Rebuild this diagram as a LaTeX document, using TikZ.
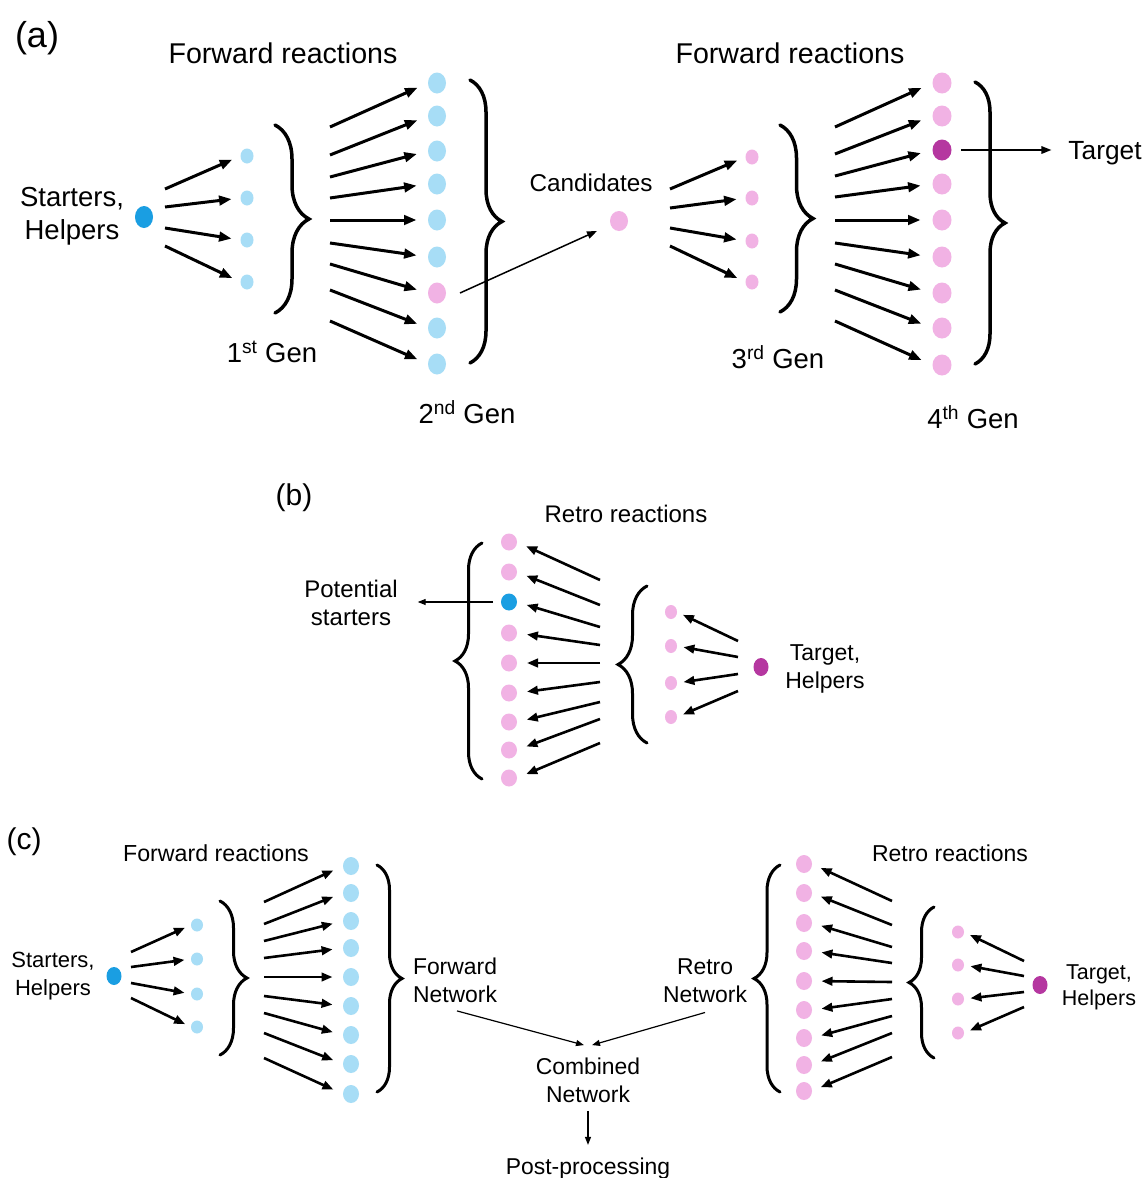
\documentclass[tikz,border=0pt]{standalone}
\usepackage{fontspec}
\setmainfont{Liberation Sans}
\usetikzlibrary{arrows.meta,shapes.geometric,decorations.pathreplacing}
\definecolor{lblue}{RGB}{167,221,246}
\definecolor{dblue}{RGB}{26,158,226}
\definecolor{lpink}{RGB}{241,178,228}
\definecolor{mag}{RGB}{181,55,160}
\newcommand\fsz[2]{\fontsize{#1}{#2}\selectfont}
\begin{document}
\begin{tikzpicture}[x=1pt,y=-1pt,
  dot/.style={ellipse,inner sep=0pt,outer sep=0pt,draw=none},
  lab/.style={inner sep=0pt,outer sep=0pt,align=center},
  fwA/.style={line width=3pt,-{Triangle[length=12.5pt,width=9.5pt]}},
  fwC/.style={line width=2.6pt,-{Triangle[length=11pt,width=8.5pt]}},
  thA/.style={line width=1.5pt,-{Triangle[length=10pt,width=7.5pt]}},
  thC/.style={line width=1.2pt,-{Triangle[length=8pt,width=6pt]}},
  brA/.style={decorate,line width=3.5pt,line cap=round},
  brC/.style={decorate,line width=3pt,line cap=round}]
\path[use as bounding box,fill=white] (0,0) rectangle (1146,1178);
% ================= (a)
\node[lab,font=\fsz{36}{40}] (la) at (37,38) {(a)};
\node[lab,font=\fsz{28.6}{32}] (fra) at (283,53) {Forward reactions};
\node[lab,font=\fsz{28.6}{32}] (frb) at (790,53) {Forward reactions};
\node[lab,font=\fsz{27.5}{33}] (sha) at (72,216) {Starters,\\Helpers};
\node[dot,fill=dblue,minimum width=18pt,minimum height=22pt] (a0) at (144,217) {};
\foreach \y [count=\i] in {156,198,240,282}
  \node[dot,fill=lblue,minimum width=13pt,minimum height=15pt] (a1d\i) at (247,\y) {};
\foreach \y [count=\i] in {189,207,228,246}{
  \coordinate (a1s\i) at (165,\y);
  \draw[fwA,shorten >=9pt] (a1s\i) -- (a1d\i.west);}
\draw[brA,decoration={brace,amplitude=34pt}] (275,125) -- (275,313);
\node[lab,font=\fsz{27.5}{30}] (g1) at (272,352) {1\textsuperscript{st} Gen};
\foreach \y/\c [count=\i] in {83/lblue,116/lblue,151/lblue,184/lblue,220/lblue,257/lblue,293/lpink,328/lblue,364/lblue}
  \node[dot,fill=\c,minimum width=18pt,minimum height=21pt] (a2d\i) at (437,\y) {};
\foreach \y [count=\i] in {127,155,177,198,220,243,264,290,321}{
  \coordinate (a2s\i) at (330,\y);
  \draw[fwA,shorten >=11.5pt] (a2s\i) -- (a2d\i.west);}
\draw[brA,decoration={brace,amplitude=32pt}] (470,80) -- (470,363);
\node[lab,font=\fsz{27.5}{30}] (g2) at (467,412) {2\textsuperscript{nd} Gen};
\node[lab,font=\fsz{24.3}{28}] (cl) at (591,183) {Candidates};
\node[dot,fill=lpink,minimum width=18pt,minimum height=20pt] (cand) at (619,221) {};
\draw[thA,shorten >=15pt] ([xshift=14pt]a2d7.east) -- (cand);
\foreach \y [count=\i] in {157,198,241,282}
  \node[dot,fill=lpink,minimum width=13pt,minimum height=15pt] (a3d\i) at (752,\y) {};
\foreach \y [count=\i] in {189,208,228,246}{
  \coordinate (a3s\i) at (670,\y);
  \draw[fwA,shorten >=9pt] (a3s\i) -- (a3d\i.west);}
\draw[brA,decoration={brace,amplitude=33pt}] (780,125) -- (780,312);
\node[lab,font=\fsz{27.5}{30}] (g3) at (778,357) {3\textsuperscript{rd} Gen};
\foreach \y/\c [count=\i] in {83/lpink,116/lpink,150/mag,184/lpink,220/lpink,257/lpink,293/lpink,328/lpink,365/lpink}
  \node[dot,fill=\c,minimum width=19pt,minimum height=21pt] (a4d\i) at (942,\y) {};
\foreach \y [count=\i] in {127,154,176,197,220,243,264,290,321}{
  \coordinate (a4s\i) at (835,\y);
  \draw[fwA,shorten >=12pt] (a4s\i) -- (a4d\i.west);}
\draw[brA,decoration={brace,amplitude=30pt}] (975,82) -- (975,364);
\node[lab,font=\fsz{27.5}{30}] (g4) at (973,417) {4\textsuperscript{th} Gen};
\node[lab,font=\fsz{26.3}{30}] (tgt) at (1105,153) {Target};
\draw[thA,shorten <=9.5pt,shorten >=17pt] (a4d3) -- (a4d3 -| tgt.west);
% ================= (b)
\node[lab,font=\fsz{30}{34}] (lb) at (294,498) {(b)};
\node[lab,font=\fsz{24}{28}] (rrb) at (626,514) {Retro reactions};
\foreach \y/\c [count=\i] in {542/lpink,572/lpink,602/dblue,633/lpink,663/lpink,693/lpink,722/lpink,750/lpink,778/lpink}
  \node[dot,fill=\c,minimum width=16pt,minimum height=17pt] (b2d\i) at (509,\y) {};
\foreach \y [count=\i] in {580,605,627,645,663,682,702,719,743}{
  \coordinate (b2s\i) at (600,\y);
  \draw[fwC,shorten >=10pt] (b2s\i) -- (b2d\i.east);}
\draw[brC,decoration={brace,amplitude=27pt}] (482,779) -- (482,543);
\draw[brC,decoration={brace,amplitude=29pt}] (647,743) -- (647,586);
\foreach \y [count=\i] in {612,646,683,717}
  \node[dot,fill=lpink,minimum width=12pt,minimum height=14pt] (b1d\i) at (671,\y) {};
\node[dot,fill=mag,minimum width=15pt,minimum height=18pt] (bt) at (761,667) {};
\foreach \y [count=\i] in {641,657,674,691}{
  \coordinate (b1s\i) at (738,\y);
  \draw[fwC,shorten >=6.5pt] (b1s\i) -- (b1d\i.east);}
\node[lab,font=\fsz{23}{28}] (thb) at (825,669) {Target,\\Helpers};
\node[lab,font=\fsz{24}{28}] (pot) at (351,603) {Potential\\starters};
\draw[thC,shorten <=8pt,shorten >=20pt] (b2d3) -- (b2d3 -| pot.east);
% ================= (c)
\node[lab,font=\fsz{30}{34}] (lc) at (24,842) {(c)};
\node[lab,font=\fsz{23.2}{28}] (frc) at (216,853) {Forward reactions};
\node[lab,font=\fsz{22}{28}] (shc) at (53,976) {Starters,\\Helpers};
\node[dot,fill=dblue,minimum width=15pt,minimum height=18pt] (c0) at (114,976) {};
\foreach \y [count=\i] in {925,959,994,1027}
  \node[dot,fill=lblue,minimum width=12pt,minimum height=13pt] (c1d\i) at (197,\y) {};
\foreach \y [count=\i] in {952,967,983,998}{
  \coordinate (c1s\i) at (131,\y);
  \draw[fwC,shorten >=6.5pt] (c1s\i) -- (c1d\i.west);}
\draw[brC,decoration={brace,amplitude=27pt}] (220,901) -- (220,1055);
\foreach \y [count=\i] in {866,893,921,948,977,1006,1035,1064,1094}
  \node[dot,fill=lblue,minimum width=16pt,minimum height=18pt] (c2d\i) at (351,\y) {};
\foreach \y [count=\i] in {902,924,941,958,977,996,1013,1033,1058}{
  \coordinate (c2s\i) at (264,\y);
  \draw[fwC,shorten >=10.5pt] (c2s\i) -- (c2d\i.west);}
\draw[brC,decoration={brace,amplitude=25pt}] (377,865) -- (377,1092);
\node[lab,font=\fsz{22.9}{28}] (fwn) at (455,980) {Forward\\Network};
\node[lab,font=\fsz{22.9}{28}] (rtn) at (705,981) {Retro\\Network};
\node[lab,font=\fsz{22.9}{28}] (cmb) at (588,1080) {Combined\\Network};
\node[lab,font=\fsz{22.9}{28},anchor=base] (post) at (588,1174) {Post-processing};
\draw[thC] ([shift={(2pt,-8.5pt)}]fwn.south) -- ([shift={(-4pt,12.5pt)}]cmb.north);
\draw[thC] ([shift={(0pt,-9.5pt)}]rtn.south) -- ([shift={(4pt,12.5pt)}]cmb.north);
\draw[thC] ([yshift=-8.5pt]cmb.south) -- ([yshift=12.5pt]cmb.south |- post.north);
\node[lab,font=\fsz{23}{28}] (rrc) at (950,853) {Retro reactions};
\foreach \y [count=\i] in {864,893,923,951,981,1010,1038,1065,1091}
  \node[dot,fill=lpink,minimum width=16pt,minimum height=18pt] (c3d\i) at (804,\y) {};
\foreach \y [count=\i] in {901,925,947,963,982,999,1016,1033,1057}{
  \coordinate (c3s\i) at (892,\y);
  \draw[fwC,shorten >=9.5pt] (c3s\i) -- (c3d\i.east);}
\draw[brC,decoration={brace,amplitude=26pt}] (780,1092) -- (780,865);
\draw[brC,decoration={brace,amplitude=25pt}] (934,1058) -- (934,907);
\foreach \y [count=\i] in {932,965,999,1033}
  \node[dot,fill=lpink,minimum width=12pt,minimum height=13pt] (c4d\i) at (958,\y) {};
\foreach \y [count=\i] in {961,976,992,1007}{
  \coordinate (c4s\i) at (1024,\y);
  \draw[fwC,shorten >=6.5pt] (c4s\i) -- (c4d\i.east);}
\node[dot,fill=mag,minimum width=15pt,minimum height=18pt] (ct) at (1040,985) {};
\node[lab,font=\fsz{21.5}{26}] (thc) at (1099,987) {Target,\\Helpers};
\end{tikzpicture}
\end{document}
